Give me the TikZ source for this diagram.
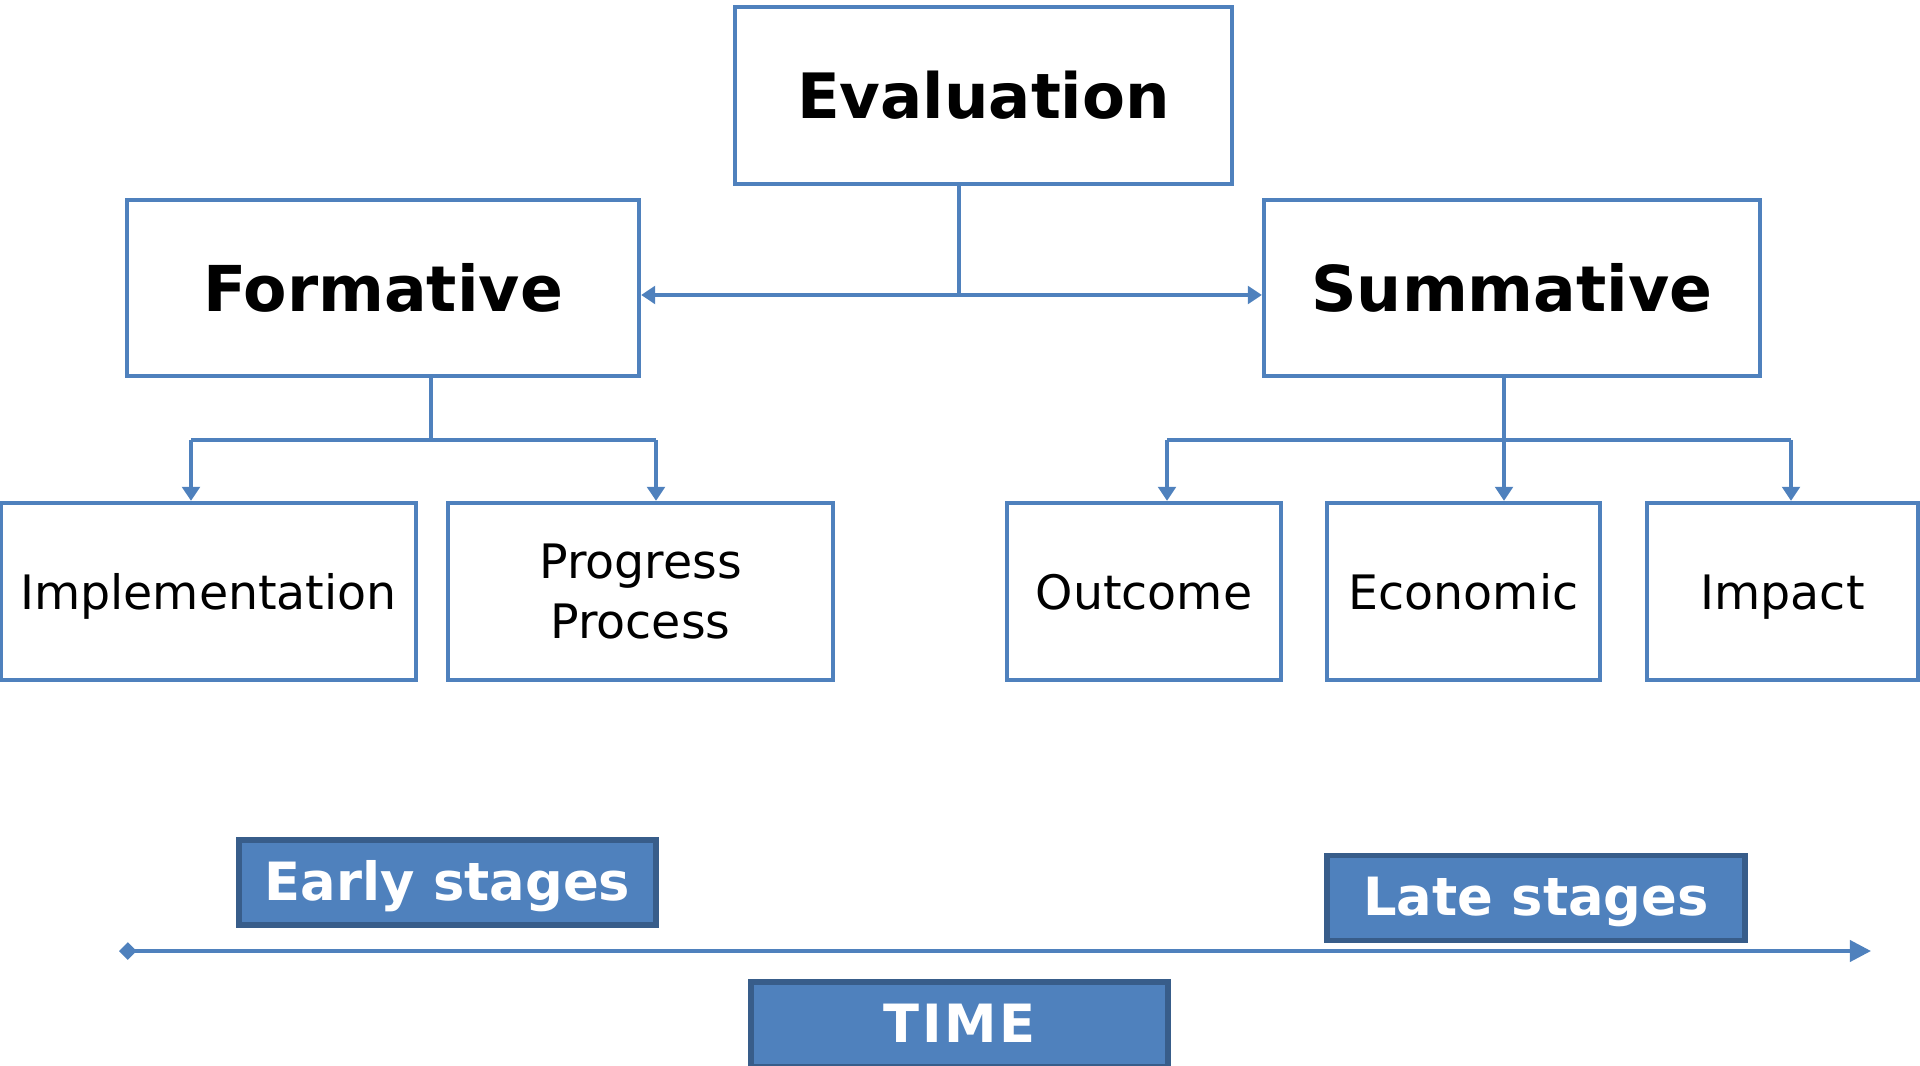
\documentclass[tikz,border=0pt]{standalone}
\usepackage{fontspec}
\setmainfont{DejaVu Sans}
\usetikzlibrary{arrows.meta}

\definecolor{officeblue}{HTML}{4F81BD}
\definecolor{officedark}{HTML}{385D8A}

\tikzset{
  evalbox/.style={draw=officeblue,line width=1.2pt,fill=white,inner sep=0pt},
  onerow/.style={text height=1.1em,text depth=0.08em},
  stagebox/.style={draw=officedark,line width=1.6pt,fill=officeblue,text=white,
    font=\fontsize{15}{18}\selectfont\bfseries,inner sep=0pt,minimum height=0.85cm,minimum width=4.17cm,
    text height=1.08em,text depth=0.08em},
  link/.style={draw=officeblue,line width=1.1pt},
  tip/.style={link,-{Triangle[length=4pt,width=5pt]}},
}

\begin{document}
\begin{tikzpicture}
	    \useasboundingbox (0,0) rectangle (19.2,10.65);

	    % Top of the tree
	    \node [evalbox,minimum width=4.97cm,minimum height=1.77cm,font=\fontsize{17.8}{20}\selectfont\bfseries]
		(eval) at (9.835,9.695) {Evaluation};

	    % The two kinds of evaluation
	    \node [evalbox,minimum width=5.12cm,minimum height=1.76cm,font=\fontsize{18}{20}\selectfont\bfseries]
		(form) at (3.83,7.77) {Formative};
	    \node [evalbox,minimum width=4.96cm,minimum height=1.76cm,font=\fontsize{18}{20}\selectfont\bfseries]
		(summ) at (15.12,7.77) {Summative};

	    % Bottom row
	    \node [evalbox,onerow,minimum width=4.15cm,minimum height=1.77cm,font=\fontsize{13.5}{17}\selectfont]
		(impl) at (2.085,4.735) {Implementation};
	    \node [evalbox,minimum width=3.85cm,minimum height=1.77cm,font=\fontsize{13.5}{17}\selectfont,align=center]
		(prog) at (6.405,4.735) {Progress\\Process};
	    \node [evalbox,onerow,minimum width=2.74cm,minimum height=1.77cm,font=\fontsize{13.5}{17}\selectfont]
		(outc) at (11.44,4.735) {Outcome};
	    \node [evalbox,onerow,minimum width=2.73cm,minimum height=1.77cm,font=\fontsize{13.5}{17}\selectfont]
		(econ) at (14.635,4.735) {Economic};
	    \node [evalbox,onerow,minimum width=2.71cm,minimum height=1.77cm,font=\fontsize{13.5}{17}\selectfont]
		(impa) at (17.825,4.735) {Impact};

	    % Split from the top box
	    \coordinate (eval split) at (9.59,7.70);
	    \draw [link] (eval.south -| eval split) -- (eval split);
	    \draw [tip] (eval split) -- (eval split -| form.east);
	    \draw [tip] (eval split) -- (eval split -| summ.west);

	    % Formative branches
	    \coordinate (form split) at (4.31,6.25);
	    \coordinate (form left) at (1.91,6.25);
	    \coordinate (form right) at (6.56,6.25);
	    \draw [link] (form.south -| form split) -- (form split);
	    \draw [link] (form left) -- (form right);
	    \draw [tip] (form left) -- (form left |- impl.north);
	    \draw [tip] (form right) -- (form right |- prog.north);

	    % Summative branches
	    \coordinate (summ split) at (15.04,6.25);
	    \coordinate (summ left) at (11.67,6.25);
	    \coordinate (summ right) at (17.91,6.25);
	    \draw [link] (summ.south -| summ split) -- (summ split);
	    \draw [link] (summ left) -- (summ right);
	    \draw [tip] (summ left) -- (summ left |- outc.north);
	    \draw [tip] (summ split) -- (summ split |- econ.north);
	    \draw [tip] (summ right) -- (summ right |- impa.north);

	    % Time line with its labels
	    \coordinate (time start) at (1.19,1.14);
	    \coordinate (time end) at (18.71,1.14);
	    \draw [link,{Diamond[length=5pt,width=5pt]}-{Triangle[length=6pt,width=6pt]}]
		(time start) -- (time end);

	    \node [stagebox] (early) at (4.475,1.825) {Early stages};
	    \node [stagebox,minimum width=4.18cm] (late) at (15.36,1.67) {Late stages};
	    \node [stagebox] (time) at (9.595,0.405) {T\kern0.8pt I\kern0.8pt M\kern0.8pt E};
	\end{tikzpicture}
\end{document}
